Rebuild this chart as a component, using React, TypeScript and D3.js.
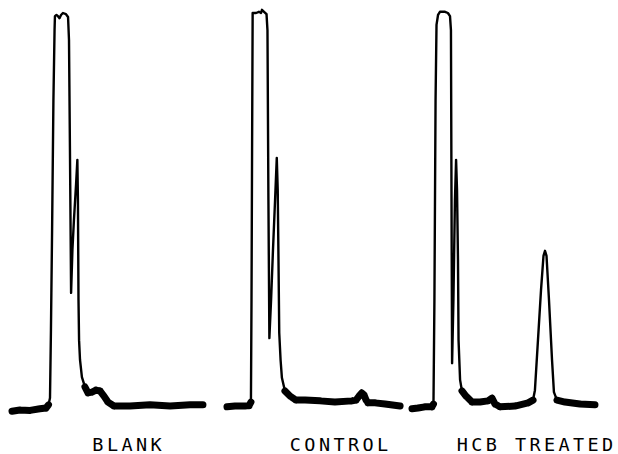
import React from 'react'
import * as d3 from 'd3'

// retention time (min) / detector response (% of full scale)
const blankTime = [0, 0.42, 0.95, 1.47, 1.79, 1.92, 2.0, 2.05, 2.11, 2.18, 2.24, 2.26, 2.34, 2.42, 2.5, 2.58, 2.68, 2.84, 2.95, 3.0, 3.05, 3.11, 3.18, 3.26, 3.37, 3.44, 3.47, 3.5, 3.53, 3.58, 3.68, 3.84, 4.0, 4.21, 4.42, 4.63, 4.84, 5.05, 5.37, 6.21, 7.26, 8.32, 9.37, 10.05]
const blankResp = [-0.3, 0, -0.1, 0.3, 0.5, 1.3, 3.0, 20.2, 45.3, 78.1, 95.7, 99.2, 99.5, 99.2, 98.7, 99.5, 100, 99.7, 99.0, 93.2, 65.5, 29.5, 40.3, 47.9, 56.7, 63.0, 52.9, 27.7, 17.6, 12.6, 8.3, 5.8, 4.3, 4.5, 5.0, 4.8, 3.5, 2.0, 1.0, 1.0, 1.3, 1.0, 1.3, 1.3]

const controlTime = [0, 0.42, 0.95, 1.16, 1.26, 1.29, 1.32, 1.35, 1.53, 1.68, 1.79, 1.84, 1.95, 2.08, 2.13, 2.18, 2.23, 2.32, 2.42, 2.53, 2.62, 2.67, 2.71, 2.75, 2.82, 2.89, 3.05, 3.32, 3.63, 4.11, 4.89, 5.68, 6.58, 6.79, 6.95, 7.09, 7.21, 7.32, 7.42, 7.79, 8.32, 9.11]
const controlResp = [0.8, 1.0, 1.0, 1.1, 2.0, 27.7, 65.5, 100, 100, 100.3, 100, 100.8, 100.3, 99.7, 95.7, 52.9, 18.1, 27.7, 40.3, 52.9, 63.5, 55.4, 37.8, 19.4, 12.6, 8.1, 4.8, 3.5, 2.5, 2.5, 2.3, 2.0, 2.3, 2.5, 3.5, 4.3, 3.8, 2.5, 1.8, 1.8, 1.5, 1.0]

const hcbTime = [0, 0.32, 0.68, 1.05, 1.13, 1.18, 1.24, 1.29, 1.37, 1.47, 1.74, 1.89, 2.0, 2.05, 2.08, 2.11, 2.18, 2.26, 2.32, 2.37, 2.42, 2.45, 2.53, 2.63, 2.84, 3.16, 3.58, 4.0, 4.21, 4.37, 4.63, 5.42, 6.11, 6.37, 6.47, 6.63, 6.79, 6.92, 7.0, 7.08, 7.21, 7.37, 7.47, 7.63, 8.05, 8.84, 9.63]
const hcbResp = [0.3, 0.5, 0.8, 0.8, 1.5, 27.7, 78.1, 97.0, 99.5, 100.3, 100.3, 100, 99.2, 95.7, 52.9, 11.8, 27.7, 52.9, 63.0, 55.4, 37.8, 17.6, 7.6, 4.8, 3.5, 2.0, 2.0, 2.3, 3.0, 1.5, 0.8, 1.0, 1.8, 2.5, 5.0, 17.6, 30.2, 38.8, 40.1, 38.8, 27.7, 12.6, 4.5, 2.5, 2.0, 1.5, 1.3]

const labels = ['BLANK', 'CONTROL', 'HCB TREATED']

const W = 618
const H = 454
const LS = 3.4 // letter spacing of the lettering

const panels = [
  { label: labels[0], time: blankTime, resp: blankResp, x0: 12, labelX: 127 },
  { label: labels[1], time: controlTime, resp: controlResp, x0: 227, labelX: 339 },
  { label: labels[2], time: hcbTime, resp: hcbResp, x0: 412, labelX: 535 },
]

const y = d3.scaleLinear().domain([0, 100]).range([410, 13])

const App: React.FC = () => {
  return (
    <svg
      width={W}
      height={H}
      viewBox={`0 0 ${W} ${H}`}
      style={{ position: 'absolute', left: 0, top: 0, background: '#fff' }}
    >
      {panels.map((p, i) => {
        // every trace uses the same chart speed
        const x = d3.scaleLinear().domain([0, 10]).range([p.x0, p.x0 + 190])
        const pts: [number, number][] = p.time.map((t, j) => [x(t), y(p.resp[j])])
        const line = d3.line<[number, number]>()
        const d = line(pts) || ''

        // pen noise makes the flat parts of the trace heavier
        const band = d3.path()
        for (let j = 0; j < pts.length - 1; j++) {
          const [x1, y1] = pts[j]
          const [x2, y2] = pts[j + 1]
          if (Math.abs(y2 - y1) <= 1.6 * Math.abs(x2 - x1) + 2 && Math.max(y1, y2) > y(9)) {
            band.moveTo(x1, y1)
            band.lineTo(x2, y2)
          }
        }

        return (
          <g key={i}>
            <path d={d} fill="none" stroke="#000" strokeWidth={2.4} strokeLinejoin="round" strokeLinecap="round" />
            <path d={band.toString()} fill="none" stroke="#000" strokeWidth={7} strokeLinejoin="round" strokeLinecap="round" />
            <text
              x={p.labelX + LS / 2}
              y={451}
              textAnchor="middle"
              fontFamily="'DejaVu Sans Mono', 'Liberation Mono', monospace"
              fontSize={18.5}
              letterSpacing={LS}
              fill="#000"
            >
              {p.label}
            </text>
          </g>
        )
      })}
    </svg>
  )
}

export default App
